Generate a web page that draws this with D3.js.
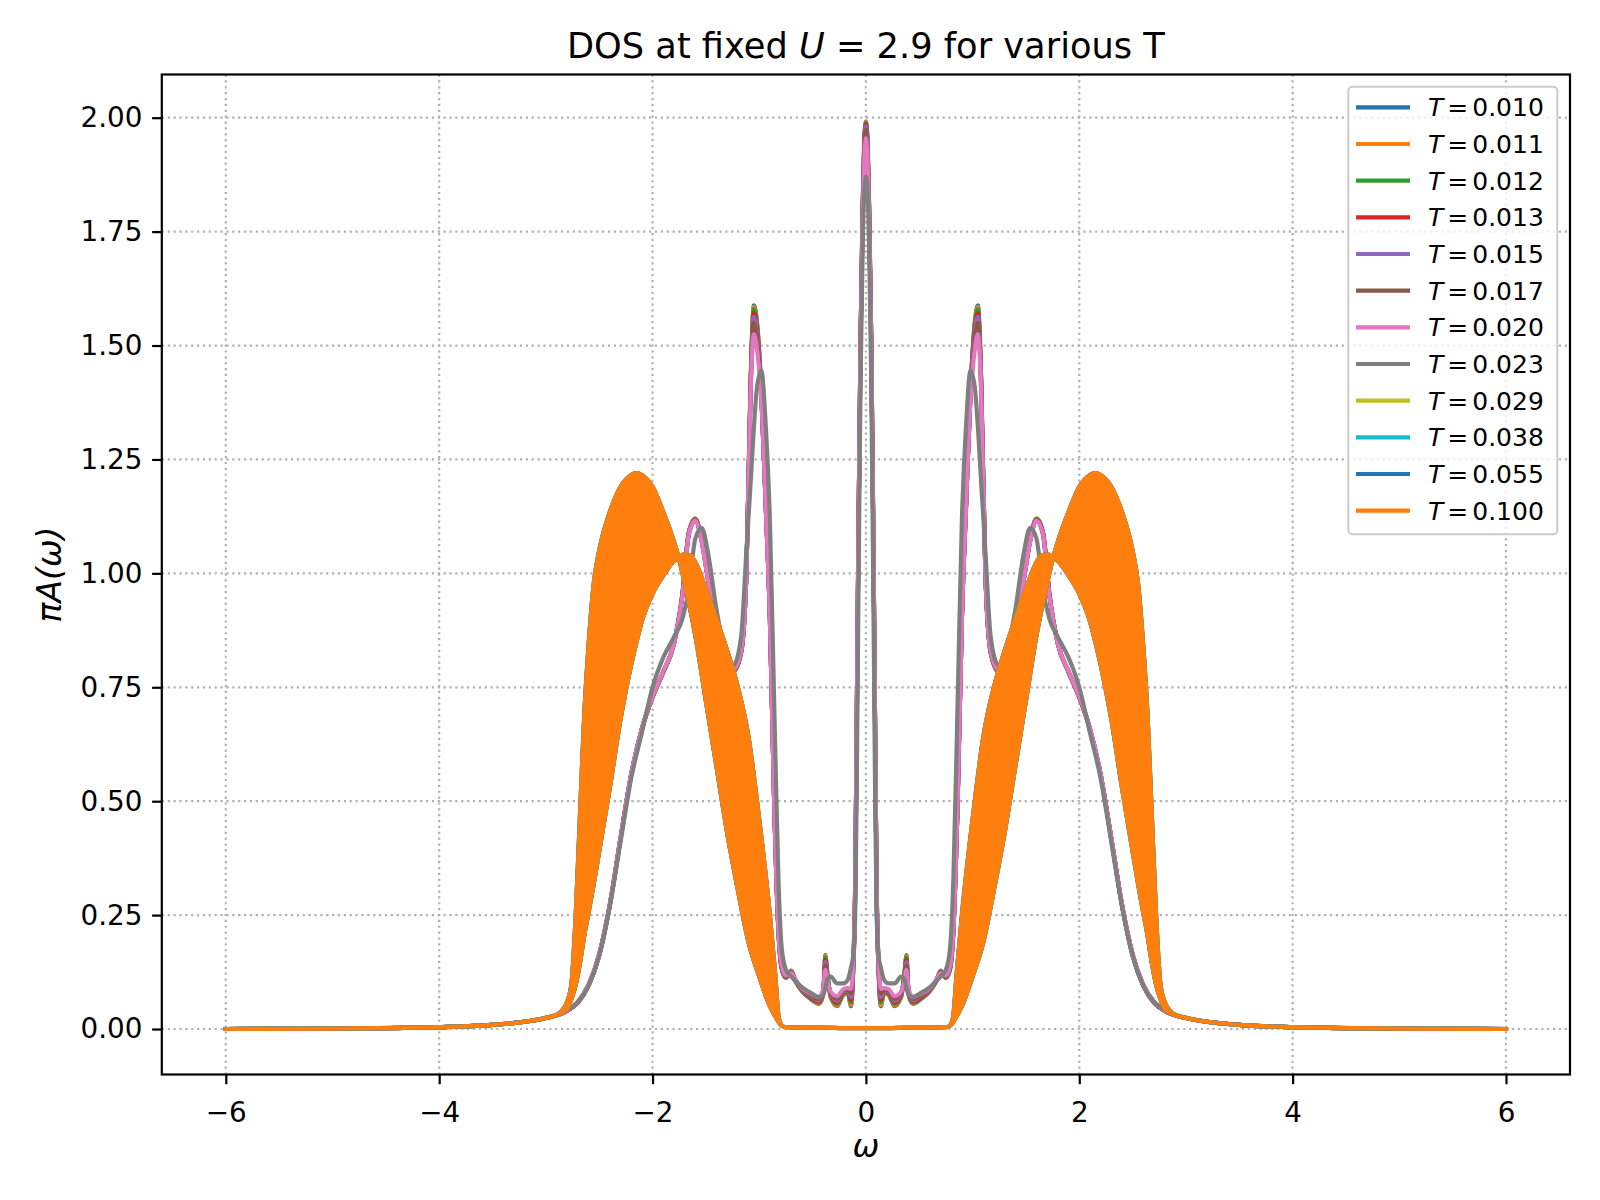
<!DOCTYPE html>
<html><head><meta charset="utf-8">
<script src="https://cdn.jsdelivr.net/npm/d3@7"></script>
<style>
body{margin:0;background:#fff}
svg{display:block}
text{font-family:"DejaVu Sans",sans-serif;fill:#000}
</style>
</head><body>
<svg id="chart" width="1600" height="1200"></svg>
<script>
// ---------- DATA ----------
const temperatures = ["0.010","0.011","0.012","0.013","0.015","0.017","0.020","0.023","0.029","0.038","0.055","0.100"];
const seriesColors = ["#1f77b4","#ff7f0e","#2ca02c","#d62728","#9467bd","#8c564b","#e377c2","#7f7f7f","#bcbd22","#17becf","#1f77b4","#ff7f0e"];
const xTicks = [-6,-4,-2,0,2,4,6];
const yTicks = [0,0.25,0.5,0.75,1.0,1.25,1.5,1.75,2.0];

// frequency grid of the metallic solutions
const omegaMetal = [
 -6,-4.5,-4,-3.5,-3.0,-2.8,-2.7,-2.6,-2.5,-2.4,
 -2.3,-2.2,-2.1,-2.0,-1.9,-1.8,-1.72,-1.66,-1.6,-1.54,
 -1.48,-1.4,-1.32,-1.24,-1.17,-1.12,-1.08,-1.05,-1.02,-0.98,
 -0.94,-0.90,-0.86,-0.82,-0.79,-0.75,-0.70,-0.66,-0.60,-0.52,
 -0.44,-0.40,-0.38,-0.36,-0.33,-0.27,-0.21,-0.17,-0.14,-0.12,
 -0.10,-0.085,-0.07,-0.05,-0.03,-0.015,0,
 0.015,0.03,0.05,0.07,0.085,0.10,
 0.12,0.14,0.17,0.21,0.27,0.33,0.36,0.38,0.40,0.44,
 0.52,0.60,0.66,0.70,0.75,0.79,0.82,0.86,0.90,0.94,
 0.98,1.02,1.05,1.08,1.12,1.17,1.24,1.32,1.40,1.48,
 1.54,1.60,1.66,1.72,1.80,1.90,2.0,2.1,2.2,2.3,
 2.4,2.5,2.6,2.7,2.8,3.0,3.5,4.0,4.5,6.0];

const dosT010 = [
 0.000,0.002,0.004,0.009,0.024,0.040,0.058,0.095,0.162,0.272,
 0.418,0.558,0.658,0.728,0.783,0.845,0.955,1.090,1.120,1.075,
 0.990,0.882,0.808,0.785,0.825,1.000,1.430,1.588,1.550,1.400,
 1.160,0.905,0.500,0.215,0.132,0.112,0.128,0.105,0.083,0.066,
 0.055,0.075,0.162,0.120,0.070,0.050,0.075,0.078,0.050,0.120,
 0.310,0.690,1.080,1.520,1.810,1.950,1.992,
 1.950,1.810,1.520,1.080,0.690,0.310,
 0.120,0.050,0.078,0.075,0.050,0.070,0.120,0.162,0.075,0.055,
 0.066,0.083,0.105,0.128,0.112,0.132,0.215,0.500,0.905,1.160,
 1.400,1.550,1.588,1.430,1.000,0.825,0.785,0.808,0.882,0.990,
 1.075,1.120,1.090,0.955,0.845,0.783,0.728,0.658,0.558,0.418,
 0.272,0.162,0.095,0.058,0.040,0.024,0.009,0.004,0.002,0.000];

const dosT011 = [
 0.000,0.002,0.004,0.009,0.024,0.040,0.058,0.095,0.162,0.272,
 0.418,0.558,0.658,0.728,0.783,0.845,0.955,1.090,1.120,1.075,
 0.990,0.882,0.808,0.785,0.825,1.000,1.428,1.585,1.547,1.398,
 1.160,0.905,0.500,0.215,0.133,0.112,0.127,0.105,0.084,0.067,
 0.056,0.076,0.160,0.119,0.071,0.052,0.076,0.079,0.053,0.122,
 0.312,0.692,1.080,1.518,1.808,1.948,1.991,
 1.948,1.808,1.518,1.080,0.692,0.312,
 0.122,0.053,0.079,0.076,0.052,0.071,0.119,0.160,0.076,0.056,
 0.067,0.084,0.105,0.127,0.112,0.133,0.215,0.500,0.905,1.160,
 1.398,1.547,1.585,1.428,1.000,0.825,0.785,0.808,0.882,0.990,
 1.075,1.120,1.090,0.955,0.845,0.783,0.728,0.658,0.558,0.418,
 0.272,0.162,0.095,0.058,0.040,0.024,0.009,0.004,0.002,0.000];

const dosT012 = [
 0.000,0.002,0.004,0.009,0.024,0.040,0.058,0.095,0.163,0.272,
 0.418,0.558,0.658,0.728,0.783,0.845,0.954,1.089,1.119,1.074,
 0.989,0.882,0.808,0.786,0.826,1.000,1.425,1.580,1.542,1.396,
 1.158,0.904,0.500,0.216,0.134,0.113,0.126,0.106,0.085,0.068,
 0.058,0.078,0.157,0.117,0.073,0.055,0.078,0.081,0.058,0.125,
 0.315,0.694,1.080,1.515,1.805,1.945,1.989,
 1.945,1.805,1.515,1.080,0.694,0.315,
 0.125,0.058,0.081,0.078,0.055,0.073,0.117,0.157,0.078,0.058,
 0.068,0.085,0.106,0.126,0.113,0.134,0.216,0.500,0.904,1.158,
 1.396,1.542,1.580,1.425,1.000,0.826,0.786,0.808,0.882,0.989,
 1.074,1.119,1.089,0.954,0.845,0.783,0.728,0.658,0.558,0.418,
 0.272,0.163,0.095,0.058,0.040,0.024,0.009,0.004,0.002,0.000];

const dosT013 = [
 0.000,0.002,0.004,0.009,0.024,0.040,0.059,0.096,0.163,0.273,
 0.419,0.559,0.659,0.729,0.784,0.845,0.953,1.088,1.118,1.073,
 0.988,0.881,0.809,0.787,0.827,1.000,1.420,1.572,1.535,1.393,
 1.156,0.903,0.500,0.217,0.135,0.114,0.125,0.106,0.086,0.070,
 0.060,0.080,0.152,0.114,0.075,0.058,0.080,0.083,0.064,0.128,
 0.318,0.696,1.080,1.512,1.800,1.940,1.986,
 1.940,1.800,1.512,1.080,0.696,0.318,
 0.128,0.064,0.083,0.080,0.058,0.075,0.114,0.152,0.080,0.060,
 0.070,0.086,0.106,0.125,0.114,0.135,0.217,0.500,0.903,1.156,
 1.393,1.535,1.572,1.420,1.000,0.827,0.787,0.809,0.881,0.988,
 1.073,1.118,1.088,0.953,0.845,0.784,0.729,0.659,0.559,0.419,
 0.273,0.163,0.096,0.059,0.040,0.024,0.009,0.004,0.002,0.000];

const dosT015 = [
 0.000,0.002,0.004,0.009,0.024,0.040,0.059,0.096,0.164,0.273,
 0.419,0.559,0.659,0.729,0.784,0.845,0.952,1.087,1.117,1.072,
 0.987,0.881,0.809,0.788,0.828,1.000,1.415,1.563,1.525,1.390,
 1.154,0.902,0.500,0.218,0.136,0.115,0.124,0.107,0.087,0.073,
 0.063,0.083,0.147,0.111,0.077,0.062,0.083,0.085,0.070,0.132,
 0.322,0.697,1.080,1.508,1.795,1.932,1.981,
 1.932,1.795,1.508,1.080,0.697,0.322,
 0.132,0.070,0.085,0.083,0.062,0.077,0.111,0.147,0.083,0.063,
 0.073,0.087,0.107,0.124,0.115,0.136,0.218,0.500,0.902,1.154,
 1.390,1.525,1.563,1.415,1.000,0.828,0.788,0.809,0.881,0.987,
 1.072,1.117,1.087,0.952,0.845,0.784,0.729,0.659,0.559,0.419,
 0.273,0.164,0.096,0.059,0.040,0.024,0.009,0.004,0.002,0.000];

const dosT017 = [
 0.000,0.002,0.004,0.009,0.024,0.040,0.059,0.097,0.164,0.274,
 0.419,0.559,0.659,0.729,0.784,0.845,0.951,1.086,1.116,1.071,
 0.986,0.880,0.810,0.789,0.829,1.000,1.408,1.550,1.510,1.386,
 1.152,0.901,0.500,0.219,0.138,0.116,0.123,0.107,0.088,0.075,
 0.066,0.085,0.140,0.108,0.079,0.066,0.085,0.087,0.078,0.136,
 0.326,0.699,1.080,1.504,1.788,1.922,1.974,
 1.922,1.788,1.504,1.080,0.699,0.326,
 0.136,0.078,0.087,0.085,0.066,0.079,0.108,0.140,0.085,0.066,
 0.075,0.088,0.107,0.123,0.116,0.138,0.219,0.500,0.901,1.152,
 1.386,1.510,1.550,1.408,1.000,0.829,0.789,0.810,0.880,0.986,
 1.071,1.116,1.086,0.951,0.845,0.784,0.729,0.659,0.559,0.419,
 0.274,0.164,0.097,0.059,0.040,0.024,0.009,0.004,0.002,0.000];

const dosT020 = [
 0.000,0.002,0.004,0.009,0.024,0.040,0.060,0.098,0.165,0.275,
 0.420,0.560,0.660,0.730,0.785,0.845,0.950,1.085,1.115,1.070,
 0.985,0.880,0.810,0.790,0.830,1.000,1.400,1.525,1.490,1.380,
 1.150,0.900,0.500,0.220,0.140,0.118,0.122,0.108,0.090,0.078,
 0.070,0.088,0.130,0.105,0.082,0.072,0.088,0.090,0.088,0.140,
 0.330,0.700,1.080,1.500,1.780,1.910,1.955,
 1.910,1.780,1.500,1.080,0.700,0.330,
 0.140,0.088,0.090,0.088,0.072,0.082,0.105,0.130,0.088,0.070,
 0.078,0.090,0.108,0.122,0.118,0.140,0.220,0.500,0.900,1.150,
 1.380,1.490,1.525,1.400,1.000,0.830,0.790,0.810,0.880,0.985,
 1.070,1.115,1.085,0.950,0.845,0.785,0.730,0.660,0.560,0.420,
 0.275,0.165,0.098,0.060,0.040,0.024,0.009,0.004,0.002,0.000];

const dosT023 = [
 0.000,0.002,0.004,0.009,0.025,0.042,0.060,0.095,0.160,0.270,
 0.410,0.550,0.650,0.750,0.815,0.860,0.900,0.965,1.075,1.100,
 1.045,0.920,0.830,0.800,0.860,1.050,1.200,1.320,1.410,1.445,
 1.330,1.120,0.720,0.330,0.180,0.130,0.115,0.105,0.092,0.080,
 0.070,0.075,0.090,0.110,0.115,0.100,0.100,0.108,0.135,0.160,
 0.250,0.550,0.950,1.420,1.720,1.840,1.870,
 1.840,1.720,1.420,0.950,0.550,0.250,
 0.160,0.135,0.108,0.100,0.100,0.115,0.110,0.090,0.075,0.070,
 0.080,0.092,0.105,0.115,0.130,0.180,0.330,0.720,1.120,1.330,
 1.445,1.410,1.320,1.200,1.050,0.860,0.800,0.830,0.920,1.045,
 1.100,1.075,0.965,0.900,0.860,0.815,0.750,0.650,0.550,0.410,
 0.270,0.160,0.095,0.060,0.042,0.025,0.009,0.004,0.002,0.000];

// insulating solutions (T >= 0.029): the curve oscillates between two envelopes
const omegaIns = [
 -6,-5,-4,-3.5,-3.2,-3.0,-2.9,-2.85,-2.8,-2.76,
 -2.72,-2.68,-2.64,-2.6,-2.55,-2.5,-2.4,-2.3,-2.2,-2.15,
 -2.1,-2.0,-1.9,-1.8,-1.75,-1.7,-1.65,-1.6,-1.5,-1.4,
 -1.3,-1.2,-1.1,-1.0,-0.9,-0.85,-0.82,-0.8,-0.78,-0.75,
 -0.6,-0.4,-0.2,0,
 0.2,0.4,0.6,0.75,0.78,0.8,0.82,0.85,0.9,1.0,
 1.1,1.2,1.3,1.4,1.5,1.6,1.65,1.7,1.75,1.8,
 1.9,2.0,2.1,2.15,2.2,2.3,2.4,2.5,2.55,2.6,
 2.64,2.68,2.72,2.76,2.8,2.85,2.9,3.0,3.2,3.5,
 4,5,6];

const insEnvelopeA = [
 0.000,0.001,0.004,0.009,0.016,0.024,0.031,0.040,0.060,0.100,
 0.250,0.470,0.690,0.840,0.980,1.050,1.135,1.190,1.216,1.220,
 1.216,1.190,1.135,1.070,1.030,0.980,0.925,0.865,0.720,0.575,
 0.430,0.305,0.190,0.115,0.050,0.028,0.016,0.010,0.006,0.004,
 0.003,0.003,0.002,0.002,
 0.002,0.003,0.003,0.004,0.006,0.010,0.016,0.028,0.050,0.115,
 0.190,0.305,0.430,0.575,0.720,0.865,0.925,0.980,1.030,1.070,
 1.135,1.190,1.216,1.220,1.216,1.190,1.135,1.050,0.980,0.840,
 0.690,0.470,0.250,0.100,0.060,0.040,0.031,0.024,0.016,0.009,
 0.004,0.001,0.000];

const insEnvelopeB = [
 0.000,0.001,0.004,0.009,0.016,0.024,0.031,0.036,0.045,0.066,
 0.097,0.145,0.205,0.255,0.320,0.390,0.530,0.680,0.800,0.850,
 0.895,0.955,0.995,1.027,1.036,1.042,1.040,1.025,0.966,0.900,
 0.830,0.750,0.640,0.460,0.250,0.120,0.030,0.012,0.006,0.004,
 0.003,0.003,0.002,0.002,
 0.002,0.003,0.003,0.004,0.006,0.012,0.030,0.120,0.250,0.460,
 0.640,0.750,0.830,0.900,0.966,1.025,1.040,1.042,1.036,1.027,
 0.995,0.955,0.895,0.850,0.800,0.680,0.530,0.390,0.320,0.255,
 0.205,0.145,0.097,0.066,0.045,0.036,0.031,0.024,0.016,0.009,
 0.004,0.001,0.000];

const metalSeries = [dosT010,dosT011,dosT012,dosT013,dosT015,dosT017,dosT020,dosT023];

// ---------- LAYOUT ----------
const svg = d3.select("#chart");
const L = 161.8, R = 1570, T = 74.5, B = 1074.5;
const lw = 4.17;
const x = d3.scaleLinear().domain([-6.6, 6.6]).range([L, R]);
const y = d3.scaleLinear().domain([-0.0998, 2.0948]).range([B, T]);

svg.append("rect").attr("width",1600).attr("height",1200).attr("fill","#fff");

// grid
const grid = svg.append("g");
grid.selectAll("line.gx").data(xTicks).join("line")
  .attr("x1",d=>x(d)).attr("x2",d=>x(d)).attr("y1",T).attr("y2",B)
  .attr("stroke","#b0b0b0").attr("stroke-width",2.2).attr("stroke-dasharray","2.2,3.67");
grid.selectAll("line.gy").data(yTicks).join("line")
  .attr("y1",d=>y(d)).attr("y2",d=>y(d)).attr("x1",L).attr("x2",R)
  .attr("stroke","#b0b0b0").attr("stroke-width",2.2).attr("stroke-dasharray","2.2,3.67");

const plot = svg.append("g");
const line = d3.line().x(d=>x(d[0])).y(d=>y(d[1])).curve(d3.curveMonotoneX);
const band = d3.area().x(d=>x(d[0])).y0(d=>y(d[1])).y1(d=>y(d[2])).curve(d3.curveMonotoneX);

temperatures.forEach((t,i)=>{
  const c = seriesColors[i];
  if (i < metalSeries.length) {
    plot.append("path").datum(d3.zip(omegaMetal, metalSeries[i]))
      .attr("d", line).attr("fill","none").attr("stroke",c)
      .attr("stroke-width",lw).attr("stroke-linejoin","round").attr("stroke-linecap","square");
  } else {
    plot.append("path").datum(d3.zip(omegaIns, insEnvelopeA, insEnvelopeB))
      .attr("d", band).attr("fill",c).attr("stroke",c)
      .attr("stroke-width",lw).attr("stroke-linejoin","round");
  }
});

// axes
const xAxis = d3.axisBottom(x).tickValues(xTicks).tickSize(9.7).tickPadding(9.7)
  .tickFormat(d => d < 0 ? "\u2212" + Math.abs(d) : String(d));
const gx = svg.append("g").attr("transform",`translate(0,${B})`).call(xAxis);
const yAxis = d3.axisLeft(y).tickValues(yTicks).tickSize(9.7).tickPadding(9.7).tickFormat(d3.format(".2f"));
const gy = svg.append("g").attr("transform",`translate(${L},0)`).call(yAxis);
[gx,gy].forEach(g=>{
  g.select(".domain").remove();
  g.selectAll(".tick line").attr("stroke","#000").attr("stroke-width",2.2);
  g.selectAll(".tick text").attr("font-size","27.8px").attr("font-family","DejaVu Sans").attr("fill","#000");
});
gx.selectAll(".tick text").attr("y",28);

// spines
svg.append("rect").attr("x",L).attr("y",T).attr("width",R-L).attr("height",B-T)
  .attr("fill","none").attr("stroke","#000").attr("stroke-width",2.2);

// title
const title = svg.append("text").attr("x",(L+R)/2).attr("y",58).attr("text-anchor","middle").attr("font-size","35.2px");
title.append("tspan").text("DOS at fixed ");
title.append("tspan").attr("font-style","italic").text("U");
title.append("tspan").text(" = 2.9 for various T");

// axis labels
svg.append("text").attr("x",(L+R)/2).attr("y",1157).attr("text-anchor","middle")
  .attr("font-size","32px").attr("font-style","italic").text("ω");
svg.append("text").attr("transform","translate(61,574.5) rotate(-90)").attr("text-anchor","middle")
  .attr("font-size","33px").attr("font-style","italic").text("πA(ω)");

// legend
const lg = svg.append("g");
lg.append("rect").attr("x",1348.3).attr("y",86.7).attr("width",1557.3-1348.3).attr("height",534.3-86.7)
  .attr("rx",4).attr("ry",4).attr("fill","rgba(255,255,255,0.8)").attr("stroke","#cccccc").attr("stroke-width",2);
temperatures.forEach((t,i)=>{
  const yc = 107.3 + i*36.67;
  lg.append("line").attr("x1",1356).attr("x2",1410).attr("y1",yc).attr("y2",yc)
    .attr("stroke",seriesColors[i]).attr("stroke-width",lw);
  const tx = lg.append("text").attr("x",1428).attr("y",yc+9).attr("font-size","25px");
  tx.append("tspan").attr("font-style","italic").text("T");
  tx.append("tspan").attr("dx",4).text("=");
  tx.append("tspan").attr("dx",4).text(t);
});
</script>
</body></html>
